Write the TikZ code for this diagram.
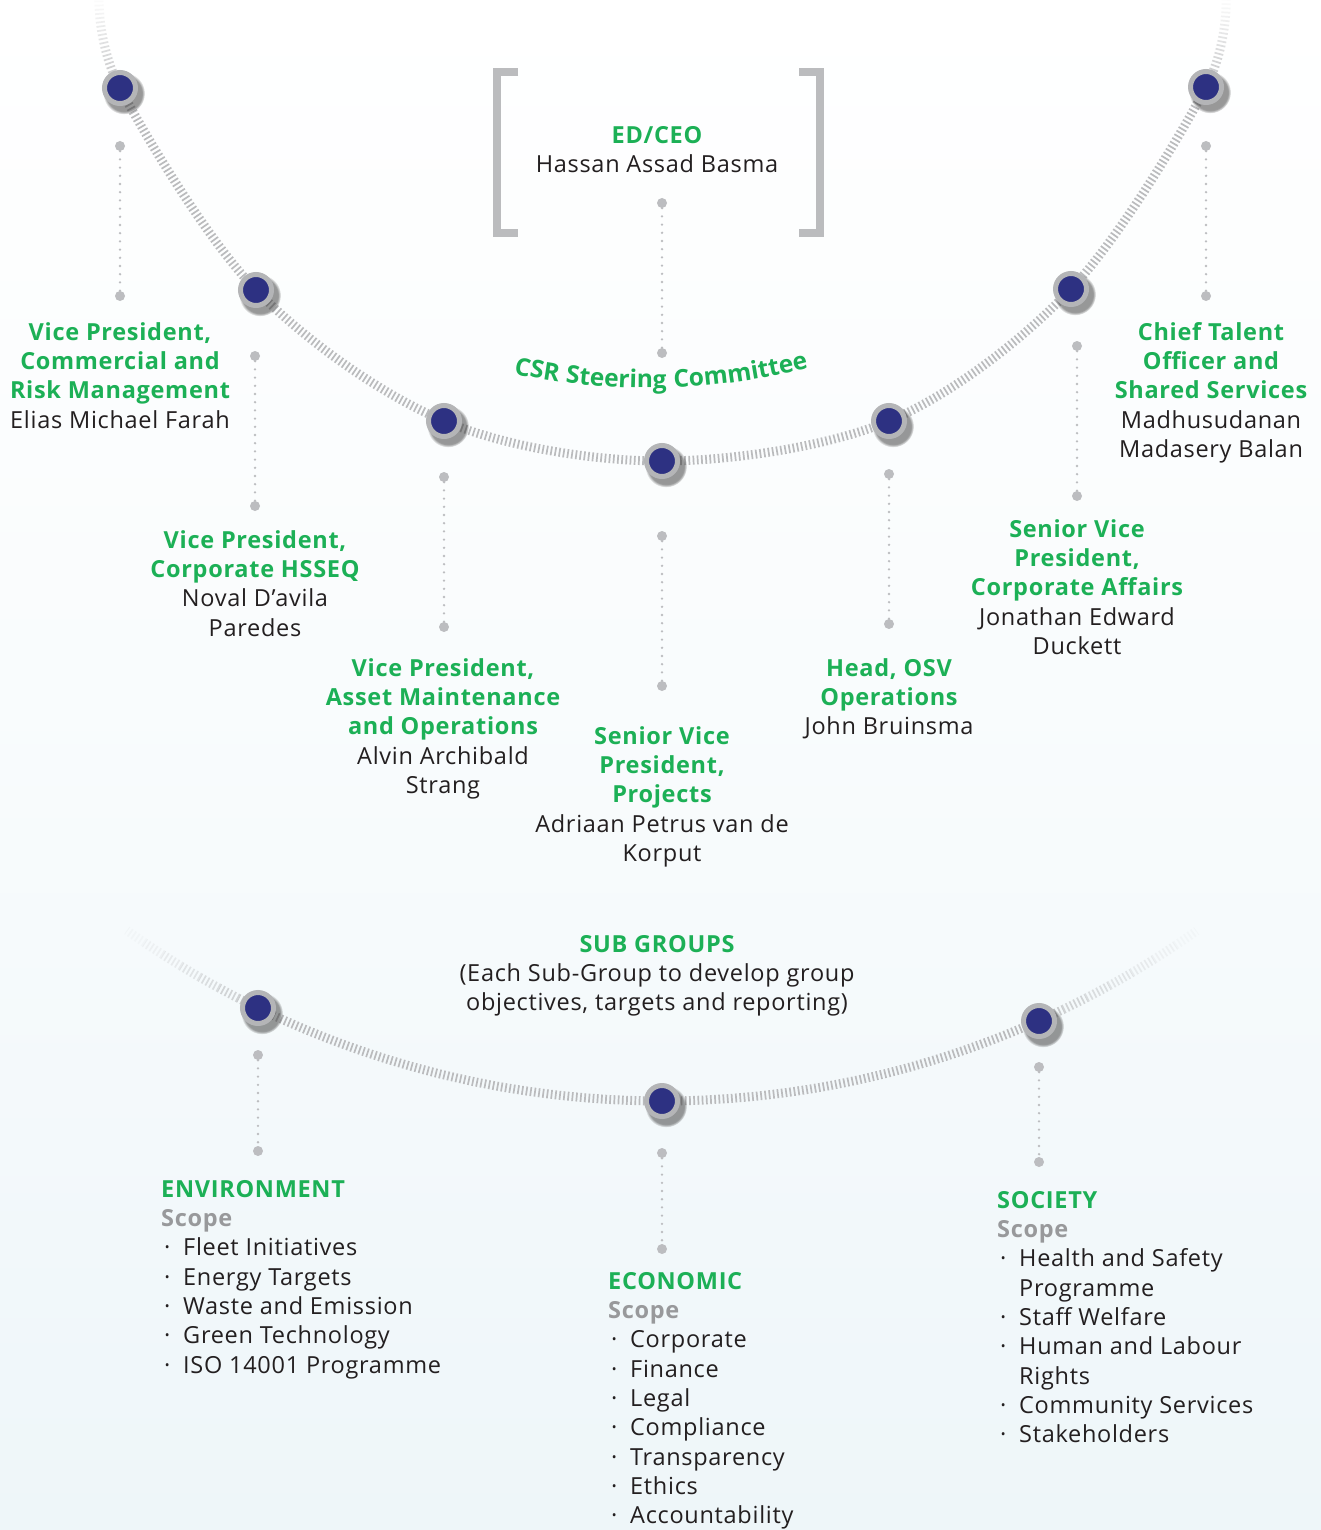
\documentclass[tikz,border=0pt]{standalone}
\usepackage{fontspec}
\setmainfont{Open Sans}[LetterSpace=3]
\usetikzlibrary{shadows,fadings,decorations.text}
\definecolor{grn}{RGB}{28,176,86}
\definecolor{navy}{RGB}{45,49,130}
\definecolor{ring}{RGB}{180,181,183}
\definecolor{txt}{RGB}{35,31,32}
\definecolor{hatch}{RGB}{186,187,189}
\definecolor{dotg}{RGB}{188,189,192}
\definecolor{scopeg}{RGB}{152,153,155}
\definecolor{bgb}{RGB}{238,246,249}
\newcommand\gtl[1]{{\color{grn}\bfseries\strut#1}}
\newcommand\btl[1]{{\color{txt}\strut#1}}
\newcommand\itm[1]{\makebox[22pt][l]{\hspace{3pt}\textperiodcentered}#1}
\newcommand\cnt[1]{\hspace{22pt}#1}
\tikzset{
  bigdot/.style={circle, minimum size=31pt, inner sep=0pt, fill=navy, draw=ring, line width=5pt,
    circular drop shadow={shadow xshift=3pt, shadow yshift=-4pt, shadow scale=1.35, opacity=0.5, fill=black!80}},
  smalldot/.style={circle, fill=dotg, minimum size=10pt, inner sep=0pt},
  dotline/.style={draw=dotg, line width=2.6pt, line cap=round, dash pattern=on 0pt off 8.2pt},
  hatchline/.style={draw=hatch, line width=9pt, dash pattern=on 1.7pt off 2.5pt},
  lbl/.style={font=\fontsize{23.5}{29.3}\selectfont, align=center, inner sep=0pt, anchor=north, text=txt},
  lst/.style={font=\fontsize{23.5}{29.3}\selectfont, align=left, inner sep=0pt, anchor=north west, text=txt},
}
\begin{document}
\begin{tikzpicture}[x=1pt,y=-1pt]
\useasboundingbox (0,0) rectangle (1321,1530);
\fill[top color=white, bottom color=bgb, middle color=white!60!bgb] (0,0) rectangle (1321,1530);

% positions
\coordinate (pA0) at (99,-8);
\coordinate (pA1) at (120,88);
\coordinate (pA2) at (256,290);
\coordinate (pA3) at (444,421);
\coordinate (pA4) at (662,461);
\coordinate (pA5) at (889,421);
\coordinate (pA6) at (1071,289);
\coordinate (pA7) at (1206,87);
\coordinate (pA8) at (1226,-8);

% upper hatched arc
\draw[hatchline] plot[smooth, tension=0.55] coordinates {(pA0) (pA1) (pA2) (pA3) (pA4) (pA5) (pA6) (pA7) (pA8)};
\fill[white, path fading=south] (0,-4) rectangle (1321,100);

% lower hatched arc (circle centre (662,176), r=925)
\draw[hatchline] plot[domain=115.9:65.9, samples=80] ({662+925*cos(\x)},{176+925*sin(\x)});
\foreach \i/\op in {0/0.75,1/0.6,2/0.46,3/0.34,4/0.24,5/0.15,6/0.08} {
  \draw[hatchline, draw opacity=\op] plot[domain={115.9+\i*1.35}:{115.9+(\i+1)*1.35}, samples=6] ({662+925*cos(\x)},{176+925*sin(\x)});
  \draw[hatchline, draw opacity=\op] plot[domain={65.9-\i*1.6}:{65.9-(\i+1)*1.6}, samples=6] ({662+925*cos(\x)},{176+925*sin(\x)});
}

% brackets
\draw[draw=ring!90, line width=8pt, line cap=butt] (518,72) -- (497,72) -- (497,233) -- (518,233);
\draw[draw=ring!90, line width=8pt, line cap=butt] (799,72) -- (820,72) -- (820,233) -- (799,233);

% big dots
\foreach \n in {1,...,7} { \node[bigdot] (A\n) at (pA\n) {}; }
\node[bigdot] (B1) at (258,1008) {};
\node[bigdot] (B2) at (662,1101) {};
\node[bigdot] (B3) at (1039,1021) {};

% small dots and dotted connectors
\node[smalldot] (c0t) at (662,203) {};  \node[smalldot] (c0b) at (662,353) {};
\node[smalldot] (c1t) at (120,146) {};  \node[smalldot] (c1b) at (120,296) {};
\node[smalldot] (c2t) at (255,356) {};  \node[smalldot] (c2b) at (255,506) {};
\node[smalldot] (c3t) at (444,477) {};  \node[smalldot] (c3b) at (444,627) {};
\node[smalldot] (c4t) at (662,536) {};  \node[smalldot] (c4b) at (662,686) {};
\node[smalldot] (c5t) at (889,474) {};  \node[smalldot] (c5b) at (889,624) {};
\node[smalldot] (c6t) at (1077,346) {}; \node[smalldot] (c6b) at (1077,496) {};
\node[smalldot] (c7t) at (1206,146) {}; \node[smalldot] (c7b) at (1206,296) {};
\node[smalldot] (d1t) at (258,1055) {}; \node[smalldot] (d1b) at (258,1151) {};
\node[smalldot] (d2t) at (662,1153) {}; \node[smalldot] (d2b) at (662,1249) {};
\node[smalldot] (d3t) at (1039,1067) {}; \node[smalldot] (d3b) at (1039,1162) {};
\foreach \a in {c0,c1,c2,c3,c4,c5,c6,c7,d1,d2,d3} { \draw[dotline] (\a t) -- (\a b); }

% CSR steering committee text
\path[decorate, decoration={text along path, text align=center, text color=grn,
  text={|\fontsize{24.5}{28}\selectfont\bfseries|CSR Steering Committee}}]
  plot[domain=102.7:74.9, samples=40] ({648+650*cos(\x)},{-262+650*sin(\x)});

% labels
\node[lbl] (ceo) at (657,122.5) {\gtl{ED/CEO}\\\btl{Hassan Assad Basma}};
\node[lbl] (t1) at (120,319.5) {\gtl{Vice President,}\\\gtl{Commercial and}\\\gtl{Risk Management}\\\btl{Elias Michael Farah}};
\node[lbl] (t2) at (255,527.5) {\gtl{Vice President,}\\\gtl{Corporate HSSEQ}\\\btl{Noval D’avila}\\\btl{Paredes}};
\node[lbl] (t3) at (443,655.5) {\gtl{Vice President,}\\\gtl{Asset Maintenance}\\\gtl{and Operations}\\\btl{Alvin Archibald}\\\btl{Strang}};
\node[lbl] (t4) at (662,723.5) {\gtl{Senior Vice}\\\gtl{President,}\\\gtl{Projects}\\\btl{Adriaan Petrus van de}\\\btl{Korput}};
\node[lbl] (t5) at (889,655.5) {\gtl{Head, OSV}\\\gtl{Operations}\\\btl{John Bruinsma}};
\node[lbl] (t6) at (1077,516.5) {\gtl{Senior Vice}\\\gtl{President,}\\\gtl{Corporate Affairs}\\\btl{Jonathan Edward}\\\btl{Duckett}};
\node[lbl] (t7) at (1211,319.5) {\gtl{Chief Talent}\\\gtl{Officer and}\\\gtl{Shared Services}\\\btl{Madhusudanan}\\\btl{Madasery Balan}};
\node[lbl] (sg) at (657,931.5) {\gtl{SUB GROUPS}\\\btl{(Each Sub-Group to develop group}\\\btl{objectives, targets and reporting)}};

\node[lst] (env) at (161,1176.5) {\gtl{ENVIRONMENT}\\{\color{scopeg}\bfseries\strut Scope}\\
  \btl{\itm{Fleet Initiatives}}\\\btl{\itm{Energy Targets}}\\\btl{\itm{Waste and Emission}}\\
  \btl{\itm{Green Technology}}\\\btl{\itm{ISO 14001 Programme}}};
\node[lst] (eco) at (608,1268.5) {\gtl{ECONOMIC}\\{\color{scopeg}\bfseries\strut Scope}\\
  \btl{\itm{Corporate}}\\\btl{\itm{Finance}}\\\btl{\itm{Legal}}\\\btl{\itm{Compliance}}\\
  \btl{\itm{Transparency}}\\\btl{\itm{Ethics}}\\\btl{\itm{Accountability}}};
\node[lst] (soc) at (997,1187.5) {\gtl{SOCIETY}\\{\color{scopeg}\bfseries\strut Scope}\\
  \btl{\itm{Health and Safety}}\\\btl{\cnt{Programme}}\\\btl{\itm{Staff Welfare}}\\
  \btl{\itm{Human and Labour}}\\\btl{\cnt{Rights}}\\\btl{\itm{Community Services}}\\\btl{\itm{Stakeholders}}};
\end{tikzpicture}
\end{document}
